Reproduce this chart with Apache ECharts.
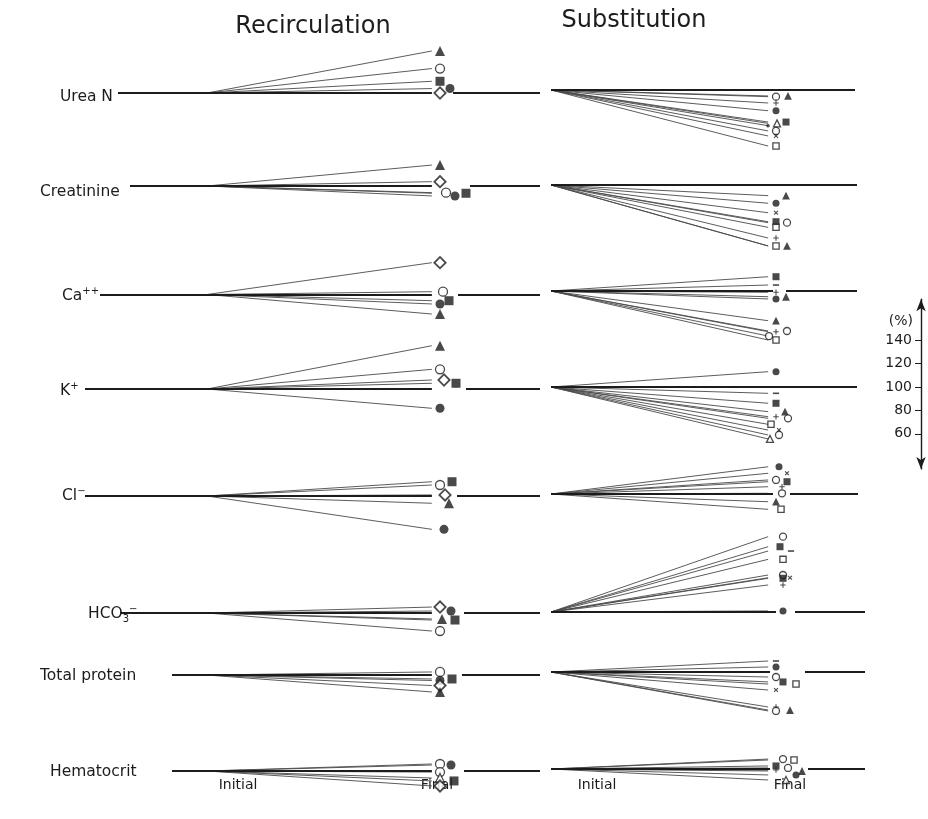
<!DOCTYPE html>
<html>
<head>
<meta charset="utf-8">
<script src="https://cdn.jsdelivr.net/npm/echarts@6/dist/echarts.min.js"></script>
<style>
  html, body { margin: 0; padding: 0; background: #fff; }
  #chart { width: 928px; height: 819px; }
</style>
</head>
<body>
<div id="chart"></div>
<script>
// ---- data ---------------------------------------------------------------
// Parameters, top to bottom
const parameters = ['Urea N', 'Creatinine', 'Ca++', 'K+', 'Cl-', 'HCO3-', 'Total protein', 'Hematocrit'];
const panelTitles = ['Recirculation', 'Substitution'];
const stageLabels = ['Initial', 'Final'];
const percentTicks = [60, 80, 100, 120, 140];

// Final value of each patient in % of the initial value (initial = 100 %)
// Marker codes: T filled triangle, t open triangle, S filled square, s open square,
// C filled circle, c open circle, d open diamond, + plus, x cross, - dash, . dot
const recircUreaN      = [135.9, 120.9, 110.0, 100.0, 103.8];
const recircUreaNMarks = ['T', 'c', 'S', 'd', 'C'];
const recircCreat      = [117.9, 103.7, 94.3, 91.5, 93.8];
const recircCreatMarks = ['T', 'd', 'c', 'C', 'S'];
const recircCa         = [127.2, 102.4, 94.7, 91.9, 83.3];
const recircCaMarks    = ['d', 'c', 'S', 'C', 'T'];
const recircK          = [137.0, 116.8, 107.7, 104.9, 83.5];
const recircKMarks     = ['T', 'c', 'd', 'S', 'C'];
const recircCl         = [112.2, 109.4, 100.9, 93.8, 71.5];
const recircClMarks    = ['S', 'c', 'd', 'T', 'C'];
const recircHCO3       = [105.1, 101.7, 94.9, 94.0, 84.6];
const recircHCO3Marks  = ['d', 'C', 'T', 'S', 'c'];
const recircProt       = [102.6, 96.6, 95.3, 91.0, 85.5];
const recircProtMarks  = ['c', 'S', 'C', 'd', 'T'];
const recircHct        = [106.0, 105.1, 99.1, 94.0, 91.5, 87.2];
const recircHctMarks   = ['c', 'C', 'c', 't', 'S', 'd'];

const substUreaN      = [94.3, 94.9, 88.9, 82.3, 69.5, 71.5, 72.6, 65.0, 60.7, 52.1];
const substUreaNMarks = ['c', 'T', '+', 'C', '.', 't', 'S', 'c', 'x', 's'];
const substCreat      = [90.9, 84.4, 76.3, 68.6, 67.8, 63.8, 54.7, 47.9, 47.9];
const substCreatMarks = ['T', 'C', 'x', 'S', 'c', 's', '+', 's', 'T'];
const substCa         = [112.2, 105.1, 98.9, 93.2, 95.1, 74.6, 61.5, 65.2, 65.8, 58.1];
const substCaMarks    = ['S', '-', '+', 'C', 'T', 'T', 'c', '+', 'c', 's'];
const substK          = [113.1, 94.6, 86.1, 78.9, 74.6, 73.2, 68.1, 63.2, 59.0, 55.6];
const substKMarks     = ['C', '-', 'S', 'T', '+', 'c', 's', 'x', 'c', 't'];
const substCl         = [123.3, 117.7, 112.0, 110.5, 106.2, 100.6, 93.4, 86.9];
const substClMarks    = ['C', 'x', 'c', 'S', '+', 'c', 'T', 's'];
const substHCO3       = [164.4, 155.8, 152.1, 145.0, 131.6, 129.3, 128.8, 123.1, 100.9];
const substHCO3Marks  = ['c', 'S', '-', 's', 'c', 'x', 'S', '+', 'C'];
const substProt       = [109.4, 104.3, 95.7, 91.5, 89.7, 84.6, 70.1, 66.7, 67.5];
const substProtMarks  = ['-', 'C', 'c', 'S', 's', 'x', '+', 'c', 'T'];
const substHct        = [108.5, 107.7, 102.6, 100.9, 99.1, 98.3, 94.9, 90.6];
const substHctMarks   = ['c', 's', 'S', 'c', '+', 'T', 'C', 't'];

// ---- layout -------------------------------------------------------------
const INK = '#1c1c1c';
const LINE_INK = '#4a4a4a';
const FONT = 'DejaVu Sans';
const CANVAS_BOTTOM = 815;
const PX_PER_PCT = 1.17;          // vertical scale shared by every row and the % axis
const Y_MIN = 40, Y_MAX = 175;
const LINE_END = 0.965;           // patient lines stop just short of the marker
const REC = { x0: 207, x1: 440, min: -0.6, max: 1.6 };
const SUB = { x0: 551, x1: 776, min: -0.2, max: 1.6 };

const recBaseY = [93, 186, 294.5, 389, 496, 613, 675, 771];
const subBaseY = [90, 185, 291, 387, 494, 612, 672, 769];
const recLeftPx = [118, 130, 100, 85, 85, 120, 172, 172];
const recRightPx = [453, 470, 458, 466, 457, 464, 462, 464];
const recEndPx = 540;
const subGapPx = [null, null, [773, 786], null, [773, 790], [776, 795], [770, 805], [770, 808]];
const subEndPx = [855, 857, 857, 857, 858, 865, 865, 865];

// horizontal marker nudges (px) where symbols sit side by side
const recNudge = [
  [0, 0, 0, 0, 10], [0, 0, 6, 15, 26], [0, 3, 9, 0, 0], [0, 0, 4, 16, 0],
  [12, 0, 5, 9, 4], [0, 11, 2, 15, 0], [0, 12, 0, 0, 0], [0, 11, 0, 0, 14, 0]
];
const subNudge = [
  [0, 12, 0, 0, -8, 1, 10, 0, 0, 0], [10, 0, 0, 0, 11, 0, 0, 0, 11],
  [0, 0, 0, 0, 10, 0, -7, 0, 11, 0], [0, 0, 0, 9, 0, 12, -5, 3, 3, -6],
  [3, 11, 0, 11, 6, 6, 0, 5], [7, 4, 15, 7, 7, 14, 7, 7, 7],
  [0, 0, 0, 7, 20, 0, 0, 0, 14], [7, 18, 0, 12, 0, 26, 20, 10]
];

const recircValues = [recircUreaN, recircCreat, recircCa, recircK, recircCl, recircHCO3, recircProt, recircHct];
const recircMarks = [recircUreaNMarks, recircCreatMarks, recircCaMarks, recircKMarks, recircClMarks, recircHCO3Marks, recircProtMarks, recircHctMarks];
const substValues = [substUreaN, substCreat, substCa, substK, substCl, substHCO3, substProt, substHct];
const substMarks = [substUreaNMarks, substCreatMarks, substCaMarks, substKMarks, substClMarks, substHCO3Marks, substProtMarks, substHctMarks];

const PLUS = 'path://M4,0H6V4H10V6H6V10H4V6H0V4H4Z';

function markerStyle(code, k) {
  const open = { color: '#fff', borderColor: INK, borderWidth: 1.3 };
  const solid = { color: INK };
  switch (code) {
    case 'T': return { symbol: 'triangle', symbolSize: 10 * k, itemStyle: solid };
    case 't': return { symbol: 'triangle', symbolSize: 9 * k, itemStyle: open };
    case 'S': return { symbol: 'rect', symbolSize: 9 * k, itemStyle: solid };
    case 's': return { symbol: 'rect', symbolSize: 8 * k, itemStyle: open };
    case 'C': return { symbol: 'circle', symbolSize: 9 * k, itemStyle: solid };
    case 'c': return { symbol: 'circle', symbolSize: 9 * k, itemStyle: open };
    case 'd': return { symbol: 'rect', symbolSize: 8 * k, symbolRotate: 45, itemStyle: { color: '#fff', borderColor: INK, borderWidth: 1.8 } };
    case '+': return { symbol: PLUS, symbolSize: 7 * k, itemStyle: solid };
    case 'x': return { symbol: PLUS, symbolSize: 7 * k, symbolRotate: 45, itemStyle: solid };
    case '-': return { symbol: 'rect', symbolSize: [8 * k, 1.6], itemStyle: solid };
    case '.': return { symbol: 'circle', symbolSize: 3.5, itemStyle: solid };
  }
  return { symbol: 'circle', symbolSize: 6, itemStyle: solid };
}

const grids = [], xAxes = [], yAxes = [], series = [];

function addPanel(panel, baseY, values, marks, nudges, k, baseSegsPx) {
  const idx = grids.length;
  const unit = panel.x1 - panel.x0;
  const toUnit = px => (px - panel.x0) / unit;
  // keep each row's grid inside the canvas so ECharts does not shift it
  const yMin = Math.max(Y_MIN, 100 - (CANVAS_BOTTOM - baseY) / PX_PER_PCT);
  grids.push({
    left: panel.x0 + panel.min * unit,
    width: (panel.max - panel.min) * unit,
    top: baseY - (Y_MAX - 100) * PX_PER_PCT,
    height: (Y_MAX - yMin) * PX_PER_PCT
  });
  xAxes.push({ type: 'value', gridIndex: idx, min: panel.min, max: panel.max, show: false });
  yAxes.push({ type: 'value', gridIndex: idx, min: yMin, max: Y_MAX, show: false });

  // one thin line per patient, initial (100 %) to final value
  series.push({
    type: 'lines', coordinateSystem: 'cartesian2d', xAxisIndex: idx, yAxisIndex: idx,
    silent: true, clip: false,
    lineStyle: { color: LINE_INK, width: 0.9, opacity: 1 },
    data: values.map(v => ({ coords: [[0, 100], [LINE_END, v]] }))
  });
  // heavy 100 % reference line
  series.push({
    type: 'lines', coordinateSystem: 'cartesian2d', xAxisIndex: idx, yAxisIndex: idx,
    silent: true, clip: false,
    lineStyle: { color: INK, width: 2, opacity: 1 },
    data: baseSegsPx.map(([a, b]) => ({ coords: [[toUnit(a), 100], [toUnit(b), 100]] }))
  });
  // patient markers at the final value
  series.push({
    type: 'scatter', xAxisIndex: idx, yAxisIndex: idx, silent: true, clip: false,
    data: values.map((v, i) => {
      const m = markerStyle(marks[i], k);
      return Object.assign({ value: [1, v], symbolOffset: [nudges[i] || 0, 0] }, m);
    })
  });
}

parameters.forEach((name, r) => {
  const recFinalPx = REC.x0 + LINE_END * (REC.x1 - REC.x0);
  addPanel(REC, recBaseY[r], recircValues[r], recircMarks[r], recNudge[r], 1,
    [[recLeftPx[r], recFinalPx], [recRightPx[r], recEndPx]]);
});
parameters.forEach((name, r) => {
  const g = subGapPx[r];
  const segs = g ? [[SUB.x0, g[0]], [g[1], subEndPx[r]]] : [[SUB.x0, subEndPx[r]]];
  addPanel(SUB, subBaseY[r], substValues[r], substMarks[r], subNudge[r], 0.78, segs);
});

// stand-alone percentage scale on the right
const pctIdx = grids.length;
const PCT_MIN = 30, PCT_MAX = 175, PCT_ZERO_Y = 387;
grids.push({ left: 921, width: 1, top: PCT_ZERO_Y - (PCT_MAX - 100) * PX_PER_PCT, height: (PCT_MAX - PCT_MIN) * PX_PER_PCT });
xAxes.push({ type: 'value', gridIndex: pctIdx, min: 0, max: 1, show: false });
yAxes.push({
  type: 'value', gridIndex: pctIdx, min: PCT_MIN, max: PCT_MAX, position: 'left',
  axisLine: { show: true, symbol: ['arrow', 'arrow'], symbolSize: [7, 12], lineStyle: { color: INK, width: 1.4 } },
  axisTick: { show: true, customValues: percentTicks, length: 6, lineStyle: { color: INK, width: 1 } },
  axisLabel: { show: true, customValues: percentTicks, color: INK, fontSize: 14, fontFamily: FONT, margin: 9 },
  splitLine: { show: false }
});

// ---- text ---------------------------------------------------------------
const rowLabelRich = {
  b: { fontSize: 15.5, fontFamily: FONT, fill: INK, lineHeight: 20 },
  sup: { fontSize: 10, fontFamily: FONT, fill: INK, verticalAlign: 'top', lineHeight: 20 },
  sub: { fontSize: 10, fontFamily: FONT, fill: INK, verticalAlign: 'bottom', lineHeight: 20 }
};
const rowLabelText = [
  '{b|Urea N}', '{b|Creatinine}', '{b|Ca}{sup|++}', '{b|K}{sup|+}',
  '{b|Cl}{sup|\u2212}', '{b|HCO}{sub|3}{sup|\u2212}', '{b|Total protein}', '{b|Hematocrit}'
];
const rowLabelX = [60, 40, 62, 60, 62, 88, 40, 50];
const rowLabelY = [97, 192, 296, 391, 496, 614, 676, 772];

const graphic = [];
panelTitles.forEach((t, i) => {
  graphic.push({ type: 'text', x: [313, 634][i], y: [27, 21][i], silent: true,
    style: { text: t, font: '24px ' + FONT, fill: INK, align: 'center', verticalAlign: 'middle' } });
});
parameters.forEach((p, r) => {
  graphic.push({ type: 'text', x: rowLabelX[r], y: rowLabelY[r], silent: true,
    style: { text: rowLabelText[r], rich: rowLabelRich, font: '15.5px ' + FONT, fill: INK, align: 'left', verticalAlign: 'middle' } });
});
[[238, 0], [437, 1], [597, 0], [790, 1]].forEach(([x, s]) => {
  graphic.push({ type: 'text', x: x, y: 785, silent: true,
    style: { text: stageLabels[s], font: '14px ' + FONT, fill: INK, align: 'center', verticalAlign: 'middle' } });
});
graphic.push({ type: 'text', x: 913, y: 321, silent: true,
  style: { text: '(%)', font: '14px ' + FONT, fill: INK, align: 'right', verticalAlign: 'middle' } });

const chart = echarts.init(document.getElementById('chart'), null, { renderer: 'canvas' });
chart.setOption({
  backgroundColor: '#fff',
  animation: false,
  grid: grids,
  xAxis: xAxes,
  yAxis: yAxes,
  series: series,
  graphic: graphic
});
</script>
</body>
</html>
